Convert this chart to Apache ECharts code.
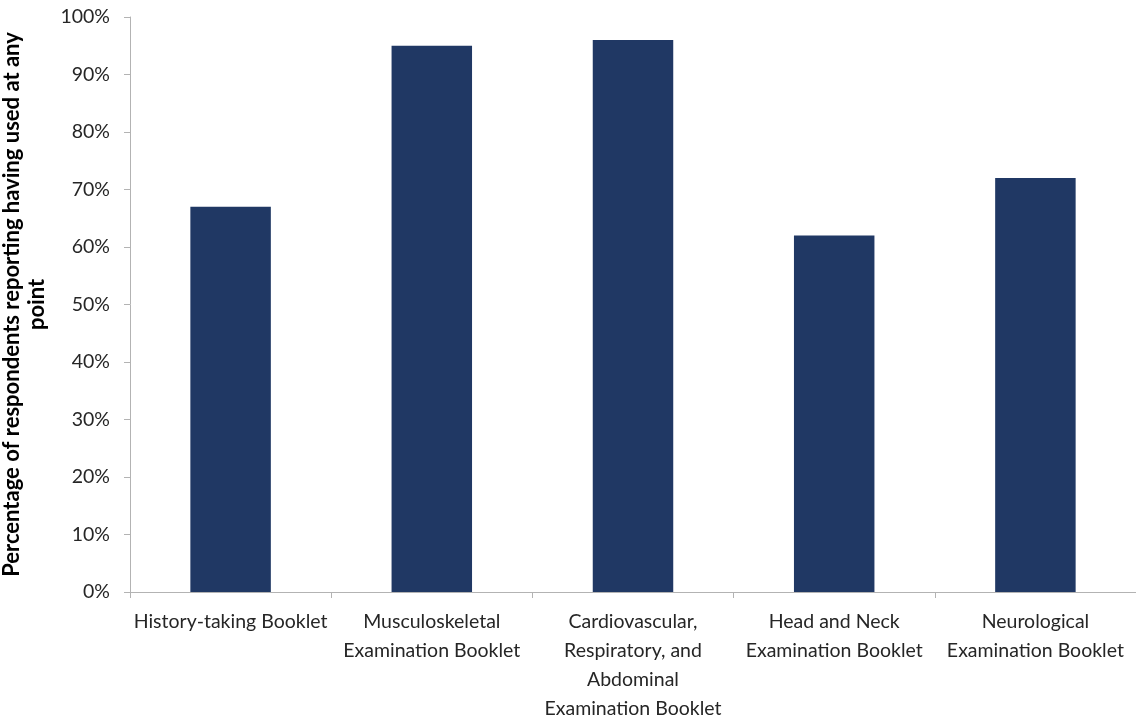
<!DOCTYPE html>
<html>
<head>
<meta charset="utf-8">
<script src="https://cdn.jsdelivr.net/npm/echarts@6/dist/echarts.min.js"></script>
<style>
  html, body { margin: 0; padding: 0; background: #fff; }
  #chart { width: 1136px; height: 722px; }
</style>
</head>
<body>
<div id="chart"></div>
<script>
// Booklet categories (line breaks as shown under the axis)
const categories = [
  'History-taking Booklet',
  'Musculoskeletal\nExamination Booklet',
  'Cardiovascular,\nRespiratory, and\nAbdominal\nExamination Booklet',
  'Head and Neck\nExamination Booklet',
  'Neurological\nExamination Booklet'
];
// Share of respondents (%) who used each booklet at any point
const usedPercent = [67, 95, 96, 62, 72];
const yAxisTitle = 'Percentage of respondents reporting having used at any\npoint';

const chart = echarts.init(document.getElementById('chart'), null, { renderer: 'canvas' });
const fontFamily = 'Lato, "Open Sans", sans-serif';
const axisGray = '#b3b3b3';
const textColor = '#262626';

chart.setOption({
  animation: false,
  backgroundColor: '#ffffff',
  grid: {
    left: 130, right: 0, top: 17, bottom: 130,
    containLabel: false,
    outerBoundsMode: 'none'
  },
  xAxis: {
    type: 'category',
    data: categories,
    boundaryGap: true,
    axisLine: { lineStyle: { color: axisGray, width: 1 } },
    axisTick: { show: true, length: 6, lineStyle: { color: axisGray } },
    axisLabel: {
      interval: 0,
      color: textColor,
      fontFamily: fontFamily,
      fontSize: 19.5,
      lineHeight: 29,
      margin: 15,
      align: 'center'
    },
    splitLine: { show: false }
  },
  yAxis: {
    type: 'value',
    min: 0,
    max: 100,
    interval: 10,
    name: yAxisTitle,
    nameLocation: 'middle',
    nameGap: 76,
    nameRotate: 90,
    nameTextStyle: {
      color: '#000000',
      fontFamily: fontFamily,
      fontSize: 22,
      fontWeight: 'bold',
      lineHeight: 25,
      align: 'center'
    },
    axisLine: { show: true, lineStyle: { color: axisGray, width: 1 } },
    axisTick: { show: true, length: 6, lineStyle: { color: axisGray } },
    axisLabel: {
      color: textColor,
      fontFamily: fontFamily,
      fontSize: 19.5,
      margin: 20,
      formatter: '{value}%'
    },
    splitLine: { show: false }
  },
  series: [{
    type: 'bar',
    data: usedPercent,
    barWidth: '40%',
    itemStyle: { color: '#203864' }
  }]
});
</script>
</body>
</html>
